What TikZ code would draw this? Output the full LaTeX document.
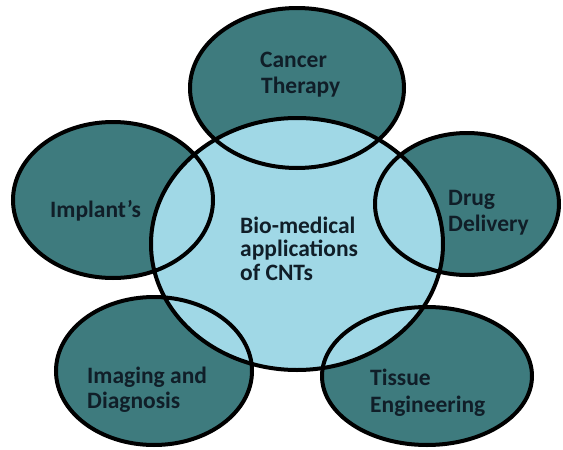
\documentclass[tikz,border=0pt]{standalone}
\usepackage{fontspec}
\setmainfont{Carlito}
\definecolor{darkteal}{RGB}{62,123,126}
\definecolor{lightblue}{RGB}{160,216,230}
\definecolor{txtcol}{RGB}{16,30,40}
\tikzset{
  outline/.style={draw=black,line width=4pt},
  lbl/.style={anchor=base west,inner sep=0pt,text=txtcol,font=\fontsize{23.5}{25}\selectfont\bfseries}
}
\begin{document}
\begin{tikzpicture}[x=1pt,y=-1pt]
\useasboundingbox (0,0) rectangle (563,450);
% outer ellipses fill
\fill[darkteal] (297,88) ellipse [x radius=107pt,y radius=80pt];
\fill[darkteal] (113,200) ellipse [x radius=100pt,y radius=78pt];
\fill[darkteal] (467,204) ellipse [x radius=92pt,y radius=71pt];
\fill[darkteal] (154,371) ellipse [x radius=98pt,y radius=74pt];
\fill[darkteal] (427,376) ellipse [x radius=105pt,y radius=69pt];
% central fill
\fill[lightblue] (297,244) ellipse [x radius=146pt,y radius=126pt];
% outlines
\draw[outline] (297,88) ellipse [x radius=107pt,y radius=80pt];
\draw[outline] (113,200) ellipse [x radius=100pt,y radius=78pt];
\draw[outline] (467,204) ellipse [x radius=92pt,y radius=71pt];
\draw[outline] (154,371) ellipse [x radius=98pt,y radius=74pt];
\draw[outline] (427,376) ellipse [x radius=105pt,y radius=69pt];
\draw[outline] (297,244) ellipse [x radius=146pt,y radius=126pt];
% labels
\node[lbl] (c1) at (260,67) {Cancer};
\node[lbl] (c2) at (261,93) {Therapy};
\node[lbl] (i1) at (50,217) {Implant's};
\node[lbl] (d1) at (448,205) {Drug};
\node[lbl] (d2) at (448,231) {Delivery};
\node[lbl] (g1) at (87,383) {Imaging and};
\node[lbl] (g2) at (87,408) {Diagnosis};
\node[lbl] (t1) at (370,385) {Tissue};
\node[lbl] (t2) at (370,412) {Engineering};
\node[lbl] (b1) at (240,233) {Bio-medical};
\node[lbl] (b2) at (240,256) {applications};
\node[lbl] (b3) at (240,280) {of CNTs};
\end{tikzpicture}
\end{document}
